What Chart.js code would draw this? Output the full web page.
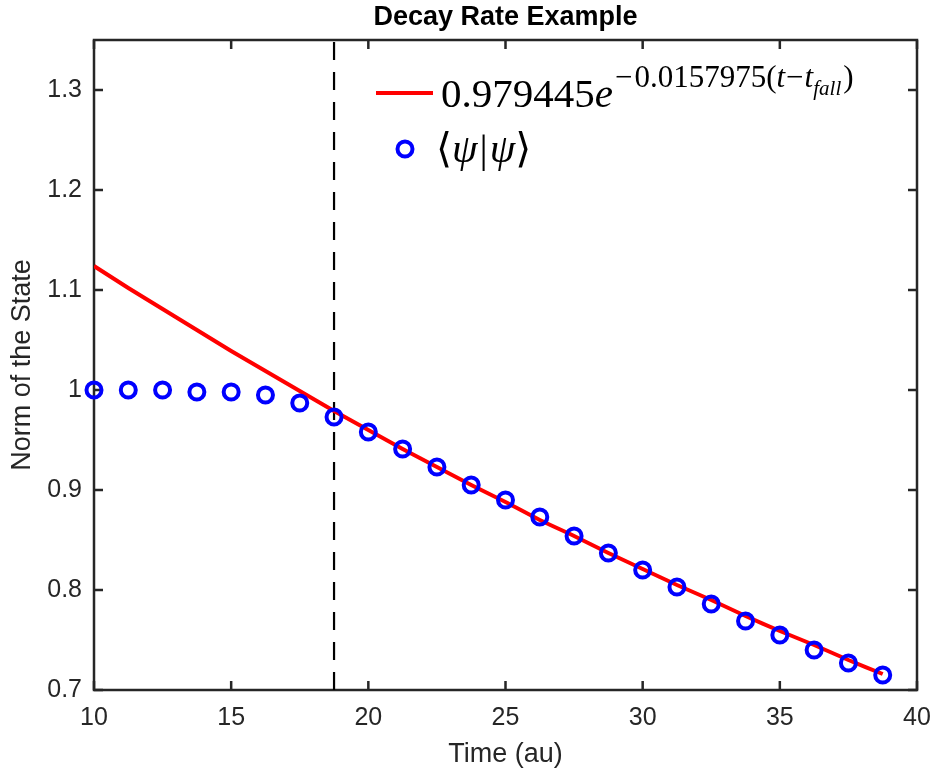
<!DOCTYPE html>
<html>
<head>
<meta charset="utf-8">
<script src="https://cdn.jsdelivr.net/npm/chart.js@4/dist/chart.umd.min.js"></script>
<style>
  body { margin: 0; background: #fff; }
  canvas { display: block; }
</style>
</head>
<body>
<canvas id="decayChart" width="934" height="774"></canvas>
<script>
// Data
const timeValues = [10, 11.25, 12.5, 13.75, 15, 16.25, 17.5, 18.75, 20, 21.25, 22.5, 23.75,
                    25, 26.25, 27.5, 28.75, 30, 31.25, 32.5, 33.75, 35, 36.25, 37.5, 38.75];
const normValues = [1.000, 1.000, 1.000, 0.998, 0.998, 0.995, 0.987, 0.973, 0.958, 0.941, 0.923, 0.905,
                    0.890, 0.873, 0.854, 0.837, 0.820, 0.803, 0.786, 0.769, 0.755, 0.740, 0.727, 0.715];
const fitValues  = [1.124, 1.102, 1.081, 1.060, 1.039, 1.019, 0.999, 0.979, 0.960, 0.941, 0.923, 0.905,
                    0.888, 0.870, 0.854, 0.837, 0.821, 0.805, 0.790, 0.774, 0.759, 0.745, 0.730, 0.716];
const tFall = 18.75;

const xTicks = [10, 15, 20, 25, 30, 35, 40];
const yTicks = [0.7, 0.8, 0.9, 1.0, 1.1, 1.2, 1.3];
const yTickLabels = ['0.7', '0.8', '0.9', '1', '1.1', '1.2', '1.3'];
const xMin = 10, xMax = 40, yMin = 0.7, yMax = 1.35;

const titleText = 'Decay Rate Example';
const axisColor = '#262626';
const sansFont = '"Liberation Sans", Arial, sans-serif';

// Box around the axes with inward ticks on all four sides (MATLAB style)
const framePlugin = {
    id: 'frame',
    beforeDatasetsDraw(chart) {
        const { ctx, chartArea: a, scales } = chart;
        const len = 9;
        ctx.save();
        ctx.strokeStyle = axisColor;
        ctx.lineWidth = 2.5;
        ctx.strokeRect(a.left, a.top, a.right - a.left, a.bottom - a.top);
        ctx.beginPath();
        xTicks.forEach(v => {
            const px = scales.x.getPixelForValue(v);
            ctx.moveTo(px, a.bottom); ctx.lineTo(px, a.bottom - len);
            ctx.moveTo(px, a.top); ctx.lineTo(px, a.top + len);
        });
        yTicks.forEach(v => {
            const py = scales.y.getPixelForValue(v);
            ctx.moveTo(a.left, py); ctx.lineTo(a.left + len, py);
            ctx.moveTo(a.right, py); ctx.lineTo(a.right - len, py);
        });
        ctx.stroke();
        ctx.restore();
    },
    afterDraw(chart) {
        // title centred over the axes, not the whole canvas
        const { ctx, chartArea: a } = chart;
        ctx.save();
        ctx.fillStyle = '#000';
        ctx.font = 'bold 27px ' + sansFont;
        ctx.textAlign = 'center';
        ctx.textBaseline = 'middle';
        ctx.fillText(titleText, (a.left + a.right) / 2, 18);
        ctx.restore();
    }
};

// Draws a run of text pieces one after another
function drawRuns(ctx, runs, x) {
    runs.forEach(r => {
        ctx.font = (r.italic ? 'italic ' : '') + r.size + 'px "Liberation Serif", "DejaVu Serif", serif';
        ctx.fillText(r.text, x, r.y);
        x += ctx.measureText(r.text).width + (r.gap || 0);
    });
    return x;
}

// Legend with the LaTeX-like labels, no box
const mathLegendPlugin = {
    id: 'mathLegend',
    afterDraw(chart) {
        const ctx = chart.ctx;
        const fit = chart.data.datasets[1];
        const pts = chart.data.datasets[0];
        ctx.save();
        // line sample
        ctx.strokeStyle = fit.borderColor;
        ctx.lineWidth = fit.borderWidth;
        ctx.beginPath();
        ctx.moveTo(376, 93);
        ctx.lineTo(433, 93);
        ctx.stroke();
        // marker sample
        ctx.strokeStyle = pts.pointBorderColor;
        ctx.lineWidth = pts.pointBorderWidth;
        ctx.beginPath();
        ctx.arc(405, 149, pts.pointRadius, 0, Math.PI * 2);
        ctx.stroke();

        ctx.fillStyle = '#000';
        ctx.textBaseline = 'alphabetic';
        drawRuns(ctx, [
            { text: '0.979445', size: 41, y: 107 },
            { text: 'e', size: 41, y: 107, italic: true, gap: 2 },
            { text: '\u2212', size: 31, y: 87, gap: 2 },
            { text: '0.0157975(', size: 31, y: 87 },
            { text: 't', size: 31, y: 87, italic: true, gap: 1 },
            { text: '\u2212', size: 31, y: 87, gap: 1 },
            { text: 't', size: 31, y: 87, italic: true },
            { text: 'fall', size: 21, y: 95, italic: true, gap: 2 },
            { text: ')', size: 31, y: 87 }
        ], 441);
        drawRuns(ctx, [
            { text: '\u27E8', size: 41, y: 162 },
            { text: '\u03C8', size: 41, y: 162, italic: true, gap: 2 },
            { text: '|', size: 41, y: 162, gap: 2 },
            { text: '\u03C8', size: 41, y: 162, italic: true },
            { text: '\u27E9', size: 41, y: 162 }
        ], 436);
        ctx.restore();
    }
};

const ctx = document.getElementById('decayChart').getContext('2d');
const decayChart = new Chart(ctx, {
    type: 'line',
    data: {
        datasets: [
            {
                label: '<psi|psi>',
                data: timeValues.map((t, i) => ({ x: t, y: normValues[i] })),
                showLine: false,
                borderColor: '#0000ff',
                backgroundColor: 'rgba(0,0,0,0)',
                pointRadius: 7.5,
                pointBorderWidth: 4,
                pointBorderColor: '#0000ff',
                pointBackgroundColor: 'rgba(0,0,0,0)',
                clip: false,
                order: 0
            },
            {
                label: 'fit',
                data: timeValues.map((t, i) => ({ x: t, y: fitValues[i] })),
                borderColor: '#ff0000',
                borderWidth: 4,
                pointRadius: 0,
                tension: 0.2,
                order: 1
            },
            {
                label: 't_fall',
                data: [{ x: tFall, y: yMin }, { x: tFall, y: yMax }],
                borderColor: '#000000',
                borderWidth: 2.2,
                borderDash: [18, 12],
                pointRadius: 0,
                order: 2
            }
        ]
    },
    options: {
        responsive: false,
        animation: false,
        layout: { padding: { left: 0, right: 17, top: 40, bottom: 0 } },
        plugins: {
            legend: { display: false },
            tooltip: { enabled: false },
            title: { display: false }
        },
        scales: {
            x: {
                type: 'linear',
                min: xMin,
                max: xMax,
                grid: { display: false, drawTicks: false },
                border: { display: false },
                afterBuildTicks: scale => { scale.ticks = xTicks.map(v => ({ value: v })); },
                afterFit: scale => {
                    scale.height = 84;
                    scale.paddingLeft = 0;
                    scale.paddingRight = 0;
                },
                ticks: {
                    color: axisColor,
                    padding: 13,
                    maxRotation: 0,
                    font: { family: sansFont, size: 25 }
                },
                title: {
                    display: true,
                    text: 'Time (au)',
                    color: axisColor,
                    font: { family: sansFont, size: 27 },
                    padding: { top: 0, bottom: 3 }
                }
            },
            y: {
                type: 'linear',
                min: yMin,
                max: yMax,
                grid: { display: false, drawTicks: false },
                border: { display: false },
                afterBuildTicks: scale => { scale.ticks = yTicks.map(v => ({ value: v })); },
                afterFit: scale => {
                    scale.width = 94;
                    scale.paddingTop = 0;
                    scale.paddingBottom = 0;
                },
                ticks: {
                    color: axisColor,
                    padding: 12,
                    font: { family: sansFont, size: 25 },
                    callback: value => {
                        const i = yTicks.findIndex(v => Math.abs(v - value) < 1e-9);
                        return i >= 0 ? yTickLabels[i] : '';
                    }
                },
                title: {
                    display: true,
                    text: 'Norm of the State',
                    color: axisColor,
                    font: { family: sansFont, size: 27 },
                    padding: { top: 6, bottom: 0 }
                }
            }
        }
    },
    plugins: [framePlugin, mathLegendPlugin]
});
</script>
</body>
</html>
